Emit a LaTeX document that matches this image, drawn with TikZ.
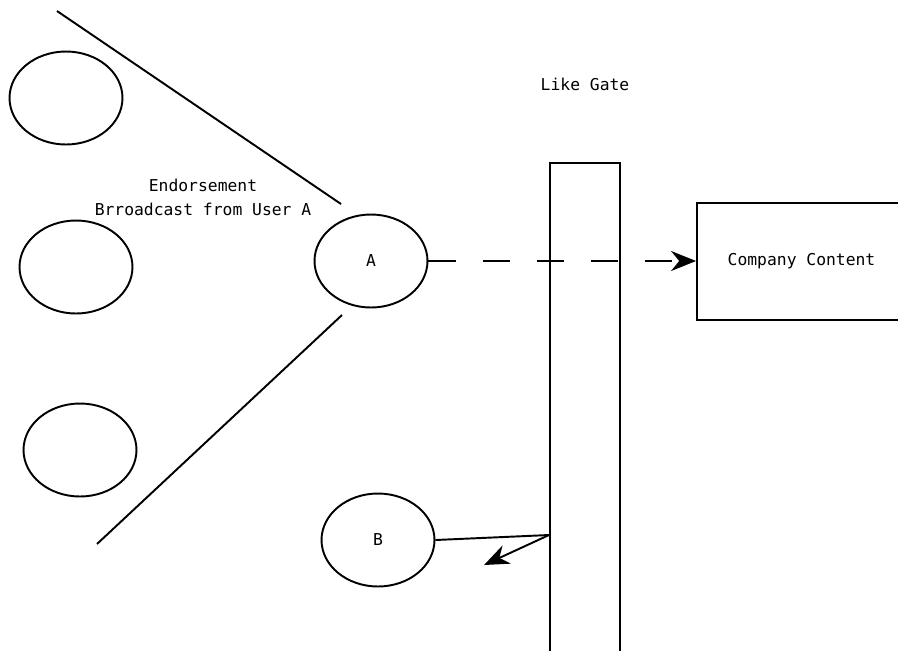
\documentclass[tikz,border=0pt]{standalone}
\usepackage{fontspec}
\setmonofont{DejaVu Sans Mono}
\usetikzlibrary{arrows.meta,shapes.geometric}
\tikzset{
  user/.style={draw, ellipse, line width=1.1pt, minimum width=2.26cm, minimum height=1.86cm, inner sep=0pt, font=\ttfamily\fontsize{9.3}{13.6}\selectfont},
  gate/.style={draw, line width=1.1pt, minimum width=1.4cm, minimum height=10.3cm, inner sep=0pt},
  content/.style={draw, line width=1.1pt, minimum width=4.18cm, minimum height=2.34cm, inner sep=0pt, font=\ttfamily\fontsize{9.3}{13.6}\selectfont},
  note/.style={align=center, inner sep=0pt, font=\ttfamily\fontsize{9.3}{13.6}\selectfont},
  edge/.style={line width=1.1pt},
  push/.style={-{Stealth[length=5mm,width=4mm]}, line width=1.1pt, dash pattern=on 15.4pt off 15.4pt},
  bounce/.style={-{Stealth[length=5mm,width=4mm]}, line width=1.1pt}
}

\begin{document}
\begin{tikzpicture}[x=0.02cm,y=-0.02cm]
\useasboundingbox (0,0) rectangle (898,650);
\clip (0,0) rectangle (898,650);

% followers of user A
\node[user] (f1) at (66,98) {};
\node[user] (f2) at (76,267) {};
\node[user] (f3) at (80,450) {};

% broadcast fan
\coordinate (fantop) at (57,11);
\coordinate (fantopend) at (341,204);
\coordinate (fanbot) at (342,315);
\coordinate (fanbotend) at (97,544);
\draw[edge] (fantop) -- (fantopend);
\draw[edge] (fanbot) -- (fanbotend);
\node[note] (bcast) at (203,197) {Endorsement\\Brroadcast from User A};

\node[user] (ua) at (371,261) {A};
\node[user] (ub) at (378,540) {B};

% the gate and what sits behind it
\node[gate] (lg) at (585,163+257.5) {};
\node[note] (lglabel) at (585,84) {Like Gate};
\node[content] (cc) at (801.5,261.5) {Company Content};

\draw[push] (ua.east) -- (ua.east -| cc.west);
\coordinate (hit) at (lg.west |- 0,535);
\coordinate (back) at (484,565);
\draw[edge] (ub.east) -- (hit);
\draw[bounce] (hit) -- (back);
\end{tikzpicture}
\end{document}
